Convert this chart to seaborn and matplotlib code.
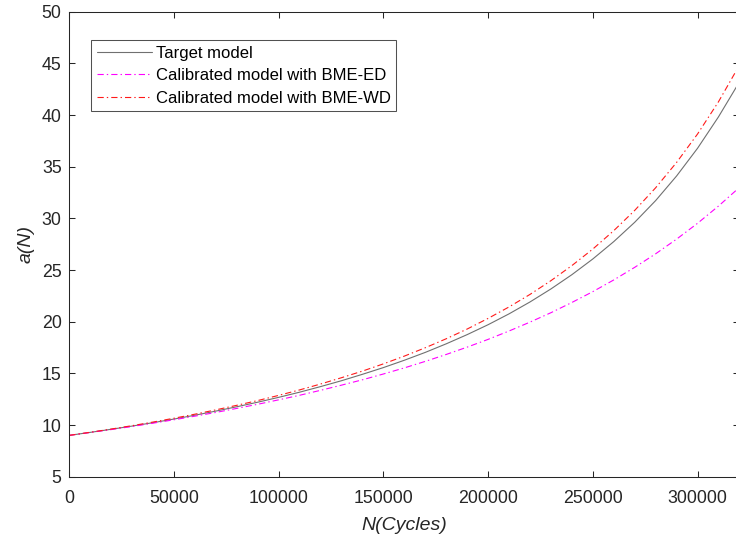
import numpy as np
import pandas as pd
import matplotlib
matplotlib.use("Agg")
import matplotlib.pyplot as plt
import seaborn as sns

# ---- data ----
cycles = [0, 10000, 20000, 30000, 40000, 50000, 60000, 70000, 80000, 90000,
          100000, 110000, 120000, 130000, 140000, 150000, 160000, 170000,
          180000, 190000, 200000, 210000, 220000, 230000, 240000, 250000,
          260000, 270000, 280000, 290000, 300000, 310000, 320000]
target = [9.00, 9.29, 9.59, 9.90, 10.23, 10.58, 10.95, 11.35, 11.77, 12.21,
          12.68, 13.18, 13.72, 14.29, 14.91, 15.56, 16.27, 17.03, 17.86, 18.75,
          19.71, 20.76, 21.91, 23.17, 24.55, 26.07, 27.75, 29.62, 31.72, 34.10,
          36.78, 39.82, 43.20]
bme_ed = [9.00, 9.28, 9.56, 9.86, 10.18, 10.51, 10.86, 11.22, 11.61, 12.01,
          12.44, 12.88, 13.36, 13.86, 14.38, 14.94, 15.53, 16.16, 16.83, 17.54,
          18.29, 19.10, 19.96, 20.87, 21.86, 22.91, 24.04, 25.26, 26.57, 27.99,
          29.52, 31.19, 32.99]
bme_wd = [9.00, 9.30, 9.61, 9.94, 10.29, 10.66, 11.05, 11.47, 11.91, 12.37,
          12.87, 13.40, 13.97, 14.58, 15.22, 15.92, 16.67, 17.48, 18.35, 19.29,
          20.32, 21.43, 22.64, 23.97, 25.43, 27.03, 28.81, 30.77, 32.96, 35.41,
          38.16, 41.28, 44.82]
labels = ["Target model", "Calibrated model with BME-ED", "Calibrated model with BME-WD"]
x_ticks = [0, 50000, 100000, 150000, 200000, 250000, 300000]
y_ticks = [5, 10, 15, 20, 25, 30, 35, 40, 45, 50]

sns.set_theme(style="white")
plt.rcParams["font.family"] = ["Liberation Sans", "DejaVu Sans"]
plt.rcParams["lines.scale_dashes"] = False

fig = plt.figure(figsize=(7.36, 5.38), dpi=100)
W, H = 736, 538
x0, x1, ytop, ybot = 69.3, 739.4, 11.7, 476.7
ax = fig.add_axes([x0 / W, (H - ybot) / H, (x1 - x0) / W, (ybot - ytop) / H])

df = pd.DataFrame({"N": cycles, "target": target, "ed": bme_ed, "wd": bme_wd})
axc = "#262626"
sns.lineplot(data=df, x="N", y="target", ax=ax, color="#707070", lw=0.8,
             label=labels[0])
sns.lineplot(data=df, x="N", y="ed", ax=ax, color="#ff00ff", lw=0.8,
             linestyle=(0, (4.5, 2.2, 1.0, 2.2)), label=labels[1])
sns.lineplot(data=df, x="N", y="wd", ax=ax, color="#ff1a1a", lw=0.8,
             linestyle=(0, (4.5, 2.2, 1.0, 2.2)), label=labels[2])

ax.set_xlim(0, 320000)
ax.set_ylim(5, 50)
ax.set_xticks(x_ticks)
ax.set_xticklabels([str(v) for v in x_ticks])
ax.set_yticks(y_ticks)
ax.set_yticklabels([str(v) for v in y_ticks])

for s in ax.spines.values():
    s.set_visible(True)
    s.set_color(axc)
    s.set_linewidth(0.75)
ax.tick_params(axis="both", which="major", direction="in", length=4.3, width=0.75,
               color=axc, labelcolor=axc, labelsize=12.75, top=True, right=True,
               bottom=True, left=True)
ax.tick_params(axis="x", pad=9.5)
ax.tick_params(axis="y", pad=5.5)

ax.set_xlabel("N(Cycles)", fontsize=14, style="italic", color=axc, labelpad=7.5)
ax.set_ylabel("a(N)", fontsize=14, style="italic", color=axc, labelpad=5.5)

leg = ax.legend(loc="upper left", bbox_to_anchor=(0.0324, 0.939), borderaxespad=0,
                fontsize=12, frameon=True, fancybox=False, handlelength=3.3,
                handletextpad=0.25, labelspacing=0.45, borderpad=0.33)
leg.get_frame().set_edgecolor(axc)
leg.get_frame().set_linewidth(0.75)
for t in leg.get_texts():
    t.set_color("#000000")

fig.savefig("out.png", dpi=100)
